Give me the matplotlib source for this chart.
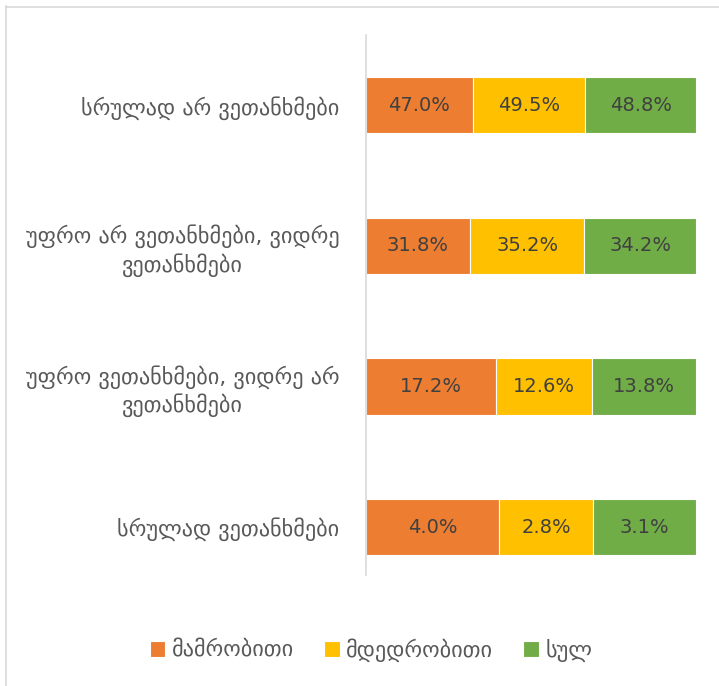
import matplotlib
matplotlib.use("Agg")
import matplotlib.pyplot as plt
from matplotlib.lines import Line2D
import numpy as np

categories = [
    "სრულად ვეთანხმები",
    "უფრო ვეთანხმები, ვიდრე არ\nვეთანხმები",
    "უფრო არ ვეთანხმები, ვიდრე\nვეთანხმები",
    "სრულად არ ვეთანხმები",
]
series_names = ["მამრობითი", "მდედრობითი", "სულ"]
male = [4.0, 17.2, 31.8, 47.0]
female = [2.8, 12.6, 35.2, 49.5]
total = [3.1, 13.8, 34.2, 48.8]
colors = ["#ED7D31", "#FFC000", "#70AD47"]

plt.rcParams["font.family"] = ["DejaVu Sans"]

fig = plt.figure(figsize=(7.19, 6.86), dpi=100)
ax = fig.add_axes([366 / 719, 1 - 575 / 686, (697 - 366) / 719, 540 / 686])

data = np.array([male, female, total])
row_sums = data.sum(axis=0)
shares = data / row_sums
y = np.arange(len(categories))
left = np.zeros(len(categories))
for i, name in enumerate(series_names):
    ax.barh(y, shares[i], left=left, height=0.40, color=colors[i],
            edgecolor="white", linewidth=0.8, label=name)
    for j in range(len(categories)):
        ax.text(left[j] + shares[i][j] / 2, y[j], f"{data[i][j]:.1f}%",
                ha="center", va="center", fontsize=14, color="#404040")
    left += shares[i]

ax.set_xlim(0, 1.003)
ax.set_ylim(-0.341, 3.498)
ax.set_yticks(y)
ax.set_yticklabels(categories, fontsize=16, color="#595959",
                   multialignment="center", linespacing=1.25)
ax.tick_params(axis="y", length=0, pad=19)
ax.set_xticks([])
for s in ["top", "right", "bottom"]:
    ax.spines[s].set_visible(False)
ax.spines["left"].set_color("#D9D9D9")
ax.spines["left"].set_linewidth(1.2)

# outer frame edges
fig.add_artist(Line2D([5.5 / 719, 5.5 / 719], [0, 1 - 6 / 686],
                      transform=fig.transFigure, color="#D9D9D9", lw=1.2))
fig.add_artist(Line2D([5.5 / 719, 1], [1 - 6.5 / 686, 1 - 6.5 / 686],
                      transform=fig.transFigure, color="#D9D9D9", lw=1.2))

fig.legend(loc="center", bbox_to_anchor=(371 / 719, 1 - 650 / 686), ncol=3,
           frameon=False, fontsize=16, handlelength=0.7, handleheight=0.7,
           handletextpad=0.3, columnspacing=1.35, labelcolor="#595959")

fig.savefig("out.png", dpi=100, facecolor="white")
